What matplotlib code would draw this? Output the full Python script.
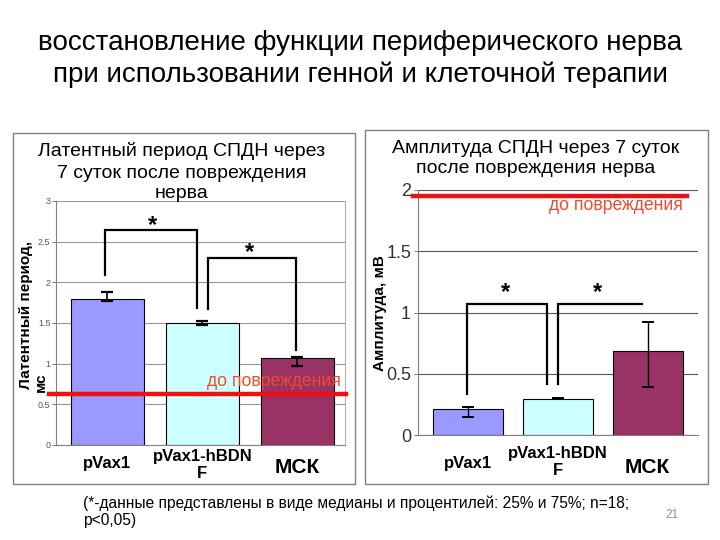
import matplotlib
matplotlib.use('Agg')
import matplotlib.pyplot as plt
from matplotlib.patches import Rectangle
from matplotlib.lines import Line2D

plt.rcParams['font.family'] = ['Liberation Sans', 'DejaVu Sans']
NARROW = ['Liberation Sans Narrow', 'Liberation Sans', 'DejaVu Sans']

# ---------------- data ----------------
groups = ['pVax1', 'pVax1-hBDN\nF', 'МСК']
bar_colors = ['#9999FF', '#CCFFFF', '#993366']

lat_median = [1.80, 1.50, 1.07]
lat_q25 = [1.77, 1.47, 0.97]
lat_q75 = [1.88, 1.52, 1.08]
lat_baseline = 0.63
lat_yticks = [0, 0.5, 1, 1.5, 2, 2.5, 3]

amp_median = [0.21, 0.295, 0.685]
amp_q25 = [0.145, 0.29, 0.39]
amp_q75 = [0.225, 0.305, 0.925]
amp_baseline = 1.95
amp_yticks = [0, 0.5, 1, 1.5, 2]

main_title = 'восстановление функции периферического нерва\nпри использовании генной и клеточной терапии'
lat_title_lines = ['Латентный период СПДН через', '7 суток после повреждения', 'нерва']
amp_title = 'Амплитуда СПДН через 7 суток\nпосле повреждения нерва'
lat_ylabel_lines = ['Латентный период,', 'мс']
amp_ylabel = 'Амплитуда, мВ'
baseline_label = 'до повреждения'
footnote = '(*-данные представлены в виде медианы и процентилей: 25% и 75%; n=18;\np<0,05)'
page_no = '21'

W, H = 720, 540
fig = plt.figure(figsize=(7.2, 5.4), dpi=100)
fig.patch.set_facecolor('white')


def fx(x):
    return x / W


def fy(y):
    return 1 - y / H


def axes_px(x0, y_top, x1, y_bot):
    return fig.add_axes([fx(x0), fy(y_bot), (x1 - x0) / W, (y_bot - y_top) / H])


# panel frames
fig.patches.append(Rectangle((fx(13), fy(484)), (355 - 13) / W, (484 - 133) / H,
                             transform=fig.transFigure, fill=False, edgecolor='#808080', lw=1.0))
fig.patches.append(Rectangle((fx(365), fy(484)), (708 - 365) / W, (484 - 130) / H,
                             transform=fig.transFigure, fill=False, edgecolor='#808080', lw=1.0))

x = [0, 1, 2]
red = '#EE1111'
red_text = '#F04A2A'


def setup(ax, yticks, grid_color, tick_size, tick_color, pad):
    ax.set_ylim(yticks[0], yticks[-1])
    ax.set_yticks(yticks)
    ax.set_yticklabels([('%g' % t) for t in yticks], fontsize=tick_size,
                       color=tick_color, family=NARROW)
    ax.yaxis.grid(True, color=grid_color, lw=0.8)
    ax.set_axisbelow(True)
    for s in ['top', 'right']:
        ax.spines[s].set_visible(False)
    ax.spines['left'].set_color('#808080')
    ax.spines['bottom'].set_color('#808080')
    ax.set_xticks(x)
    ax.set_xticklabels([])
    ax.tick_params(axis='x', length=0)
    ax.tick_params(axis='y', length=3, color='#808080', pad=pad)


def xlabels(ax, offsets, sizes):
    for xi, lab, off, sz in zip(x, groups, offsets, sizes):
        ax.annotate(lab, xy=(xi, 0), xycoords=('data', 'axes fraction'),
                    xytext=(0, -off * 0.72), textcoords='offset points',
                    ha='center', va='top', fontsize=sz, fontweight='bold',
                    linespacing=1.15)


def bracket(ax, xa, ya0, ytop, xb, yb0):
    xs, ys = [xa, xa, xb], [ya0, ytop, ytop]
    if yb0 is not None:
        xs.append(xb)
        ys.append(yb0)
    ax.plot(xs, ys, color='black', lw=1.6, solid_joinstyle='miter', clip_on=False)


# ---------------- left panel ----------------
axL = axes_px(56, 201, 345, 445)
setup(axL, lat_yticks, '#9A9A9A', 6.5, '#555555', 1)
axL.spines['right'].set_visible(True)
axL.spines['right'].set_color('#B0B0B0')
axL.set_xlim(-0.54, 2.5)
axL.bar(x, lat_median, width=0.77, color=bar_colors, edgecolor='black', lw=0.8, zorder=2)
axL.errorbar(x, lat_median,
             yerr=[[m - lo for m, lo in zip(lat_median, lat_q25)],
                   [hi - m for m, hi in zip(lat_median, lat_q75)]],
             fmt='none', ecolor='black', elinewidth=1.2, capsize=4, capthick=1.6, zorder=3)
axL.add_line(Line2D([-0.61, 2.51], [lat_baseline, lat_baseline], color=red, lw=3.2,
                    clip_on=False, zorder=4))
axL.text(2.46, 0.775, baseline_label, color=red_text, fontsize=12.7, ha='right', va='center',
         zorder=5)
bracket(axL, -0.02, 2.09, 2.64, 0.94, 1.68)
bracket(axL, 1.06, 1.67, 2.30, 1.98, 1.17)
axL.text(0.48, 2.56, '*', fontsize=17, fontweight='bold', ha='center', va='bottom')
axL.text(1.50, 2.23, '*', fontsize=17, fontweight='bold', ha='center', va='bottom')
xlabels(axL, [11, 4, 13], [12, 12, 15])

# ---------------- right panel ----------------
axR = axes_px(418, 190, 698, 435)
setup(axR, amp_yticks, '#555555', 13, '#333333', 2)
axR.set_xlim(-0.56, 2.56)
axR.bar(x, amp_median, width=0.78, color=bar_colors, edgecolor='black', lw=0.8, zorder=2)
axR.errorbar(x, amp_median,
             yerr=[[m - lo for m, lo in zip(amp_median, amp_q25)],
                   [hi - m for m, hi in zip(amp_median, amp_q75)]],
             fmt='none', ecolor='black', elinewidth=1.0, capsize=4, capthick=1.4, zorder=3)
axR.add_line(Line2D([-0.62, 2.44], [amp_baseline, amp_baseline], color=red, lw=3.2,
                    clip_on=False, zorder=4))
axR.text(2.39, 1.87, baseline_label, color=red_text, fontsize=12.7, ha='right', va='center',
         zorder=5)
bracket(axR, -0.01, 0.335, 1.07, 0.88, 0.42)
bracket(axR, 1.0, 0.42, 1.07, 1.94, None)
axR.text(0.41, 1.07, '*', fontsize=17, fontweight='bold', ha='center', va='bottom')
axR.text(1.44, 1.07, '*', fontsize=17, fontweight='bold', ha='center', va='bottom')
xlabels(axR, [21, 11, 23], [12, 12, 15])

# ---------------- texts ----------------
fig.text(fx(360), fy(59), main_title, ha='center', va='center', fontsize=20,
         linespacing=1.25)
for yy, line in zip([151, 173, 194], lat_title_lines):
    fig.text(fx(182), fy(yy), line, ha='center', va='center', fontsize=14)
fig.text(fx(536), fy(158.5), amp_title, ha='center', va='center', fontsize=14,
         linespacing=1.2)
fig.text(fx(26), fy(315), lat_ylabel_lines[0], ha='center', va='center', rotation=90,
         fontsize=11, fontweight='bold')
fig.text(fx(41), fy(392), lat_ylabel_lines[1], ha='center', va='bottom', rotation=90,
         fontsize=11, fontweight='bold')
fig.text(fx(380), fy(313), amp_ylabel, ha='center', va='center', rotation=90,
         fontsize=11, fontweight='bold')
fig.text(fx(83), fy(512), footnote, ha='left', va='center', fontsize=11.2,
         linespacing=1.2)
fig.text(fx(672), fy(515), page_no, ha='center', va='center', fontsize=8.5,
         color='#8C8C8C')

fig.savefig('out.png', dpi=100, facecolor='white')
